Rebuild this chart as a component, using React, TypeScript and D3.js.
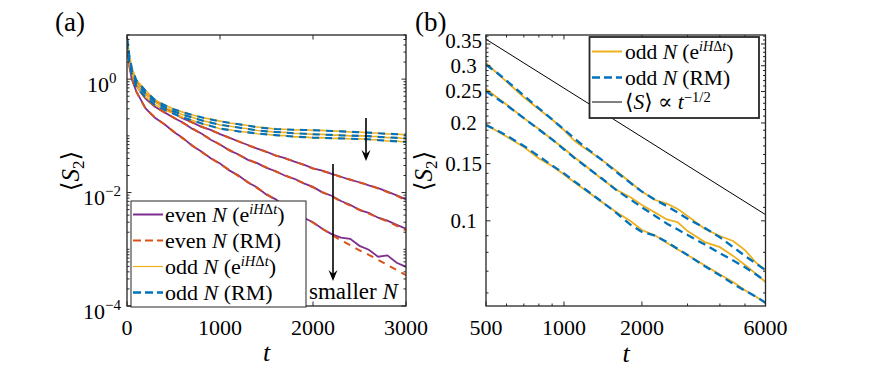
import React from 'react';
import * as d3 from 'd3';

const W = 891;
const H = 384;
const FONT = "'Liberation Serif', 'DejaVu Serif', 'Times New Roman', serif";
const AXIS = '#262626';
const PURPLE = '#7E2F8E';
const ORANGE = '#D95319';
const YELLOW = '#EDB120';
const BLUE = '#0072BD';

// ---------- panel (a): <S2> vs t, log y ----------
const tA = [0, 25, 50, 100, 200, 300, 400, 500, 600, 700, 800, 900, 1000, 1100, 1200, 1300, 1400, 1500,
  1600, 1700, 1800, 1900, 2000, 2100, 2200, 2300, 2400, 2500, 2600, 2700, 2800, 2900, 3000];

const evenExp1 = [4.1, 2.15, 1.42, 0.9, 0.555, 0.415, 0.318, 0.252, 0.203, 0.174, 0.144, 0.127, 0.107, 0.093, 0.0795,
  0.069, 0.0595, 0.0525, 0.0448, 0.0405, 0.0352, 0.031, 0.0268, 0.0243, 0.0214, 0.019, 0.0168, 0.0152, 0.0134,
  0.012, 0.0104, 0.0089, 0.0076];
const evenRM1 = [4.0, 2.1, 1.45, 0.88, 0.56, 0.41, 0.32, 0.25, 0.205, 0.172, 0.146, 0.126, 0.108, 0.092, 0.08,
  0.068, 0.06, 0.052, 0.045, 0.04, 0.0354, 0.0307, 0.0266, 0.024, 0.0217, 0.0188, 0.017, 0.015, 0.0136,
  0.0118, 0.0102, 0.0088, 0.0072];
const evenExp2 = [4.6, 1.95, 1.22, 0.76, 0.455, 0.325, 0.262, 0.208, 0.172, 0.134, 0.11, 0.0855, 0.0705, 0.0555,
  0.0468, 0.0378, 0.033, 0.0272, 0.0238, 0.0198, 0.0175, 0.0145, 0.0126, 0.0101, 0.0088, 0.0071, 0.0061,
  0.0049, 0.0044, 0.0036, 0.0032, 0.0027, 0.0023];
const evenRM2 = [4.5, 1.9, 1.25, 0.75, 0.45, 0.33, 0.26, 0.212, 0.17, 0.136, 0.108, 0.0867, 0.0699, 0.0563,
  0.0461, 0.0384, 0.0326, 0.0277, 0.0235, 0.0201, 0.0172, 0.0147, 0.0123, 0.0102, 0.0086, 0.007, 0.0059,
  0.005, 0.00425, 0.0036, 0.0031, 0.0026, 0.00215];
const evenExp3 = [5.1, 1.75, 1.02, 0.61, 0.305, 0.208, 0.162, 0.118, 0.092, 0.067, 0.053, 0.0402, 0.0325, 0.0246,
  0.0199, 0.015, 0.0123, 0.0092, 0.0076, 0.0057, 0.0048, 0.0036, 0.003, 0.0023, 0.00185, 0.0016, 0.00153,
  0.00115, 0.00098, 0.00074, 0.00078, 0.00058, 0.00049];
const evenRM3 = [5.0, 1.7, 1.05, 0.6, 0.3, 0.212, 0.16, 0.12, 0.0903, 0.068, 0.052, 0.0408, 0.0319, 0.025,
  0.0195, 0.0153, 0.012, 0.0094, 0.0074, 0.00586, 0.00469, 0.00373, 0.00294, 0.0023, 0.0018, 0.00144,
  0.00118, 0.00096, 0.0008, 0.00065, 0.00053, 0.00043, 0.00035];

const oddExp1 = [5.6, 2.65, 1.62, 0.97, 0.63, 0.435, 0.352, 0.298, 0.262, 0.235, 0.21, 0.197, 0.182, 0.168, 0.161,
  0.152, 0.143, 0.138, 0.131, 0.131, 0.127, 0.128, 0.125, 0.125, 0.121, 0.121, 0.117, 0.117, 0.113, 0.112,
  0.108, 0.108, 0.104];
const oddRM1 = [5.5, 2.6, 1.6, 0.96, 0.62, 0.43, 0.35, 0.295, 0.26, 0.233, 0.212, 0.195, 0.18, 0.17, 0.16,
  0.151, 0.142, 0.136, 0.132, 0.13, 0.128, 0.127, 0.126, 0.124, 0.122, 0.12, 0.118, 0.116, 0.114, 0.111,
  0.109, 0.107, 0.105];
const oddExp2 = [5.1, 2.35, 1.47, 0.85, 0.555, 0.395, 0.318, 0.275, 0.235, 0.212, 0.186, 0.173, 0.155, 0.149,
  0.139, 0.133, 0.124, 0.121, 0.116, 0.115, 0.11, 0.11, 0.106, 0.106, 0.103, 0.103, 0.1, 0.101, 0.098, 0.097,
  0.093, 0.093, 0.089];
const oddRM2 = [5.0, 2.3, 1.45, 0.84, 0.55, 0.39, 0.32, 0.272, 0.237, 0.21, 0.188, 0.171, 0.157, 0.148, 0.14,
  0.132, 0.125, 0.12, 0.117, 0.114, 0.111, 0.109, 0.107, 0.105, 0.104, 0.102, 0.101, 0.1, 0.099, 0.096,
  0.094, 0.092, 0.09];
const oddExp3 = [4.6, 2.05, 1.27, 0.74, 0.485, 0.355, 0.288, 0.248, 0.21, 0.189, 0.164, 0.151, 0.133, 0.128,
  0.119, 0.116, 0.109, 0.107, 0.102, 0.101, 0.096, 0.096, 0.092, 0.093, 0.09, 0.091, 0.088, 0.089, 0.086,
  0.085, 0.081, 0.081, 0.077];
const oddRM3 = [4.5, 2.0, 1.25, 0.73, 0.48, 0.35, 0.29, 0.245, 0.212, 0.187, 0.166, 0.149, 0.134, 0.127, 0.12,
  0.115, 0.11, 0.106, 0.103, 0.1, 0.097, 0.095, 0.093, 0.092, 0.091, 0.09, 0.089, 0.088, 0.087, 0.084,
  0.082, 0.08, 0.078];

const xTicksA = [0, 1000, 2000, 3000];
const yTicksA = [1e-4, 1e-2, 1e0];
const yTickExpA = ['−4', '−2', '0'];

// ---------- panel (b): log-log, odd N ----------
const tB = [500, 550, 600, 700, 800, 900, 1000, 1100, 1200, 1400, 1600, 1800, 2000, 2250, 2500, 2750, 3000,
  3500, 4000, 4500, 5000, 5500, 6000];
const bExp1 = [0.306, 0.285, 0.268, 0.24, 0.2205, 0.205, 0.19, 0.176, 0.1675, 0.154, 0.142, 0.1316, 0.123,
  0.1159, 0.113, 0.1087, 0.1035, 0.0944, 0.0898, 0.0867, 0.0813, 0.0745, 0.0706];
const bRM1 = [0.302, 0.286, 0.27, 0.243, 0.222, 0.205, 0.191, 0.179, 0.169, 0.154, 0.141, 0.131, 0.123,
  0.116, 0.111, 0.106, 0.1015, 0.095, 0.089, 0.083, 0.078, 0.074, 0.0705];
const bExp2 = [0.2544, 0.24, 0.228, 0.207, 0.1917, 0.178, 0.167, 0.1566, 0.1485, 0.1345, 0.1244, 0.1184,
  0.1118, 0.106, 0.101, 0.099, 0.093, 0.086, 0.083, 0.078, 0.0731, 0.0688, 0.0648];
const bRM2 = [0.25, 0.238, 0.227, 0.207, 0.191, 0.178, 0.166, 0.156, 0.148, 0.135, 0.124, 0.1165, 0.11,
  0.1035, 0.098, 0.094, 0.0905, 0.0845, 0.0795, 0.0755, 0.072, 0.0685, 0.0652];
const bExp3 = [0.1985, 0.189, 0.1817, 0.1687, 0.1555, 0.1474, 0.1388, 0.1312, 0.1248, 0.1142, 0.106, 0.1,
  0.0937, 0.0901, 0.0855, 0.0816, 0.0785, 0.0729, 0.0684, 0.0648, 0.0612, 0.0585, 0.0558];
const bRM3 = [0.197, 0.19, 0.183, 0.17, 0.158, 0.148, 0.14, 0.132, 0.1255, 0.1145, 0.1055, 0.0975, 0.0925,
  0.09, 0.086, 0.082, 0.0785, 0.0725, 0.068, 0.064, 0.061, 0.0585, 0.056];
const tRef = [500, 6000];
const sRef = [0.362, 0.1045];

const xTicksB = [500, 1000, 2000, 6000];
const xMinorB = [600, 700, 800, 900, 3000, 4000, 5000];
const yTicksB = [0.1, 0.15, 0.2, 0.25, 0.3, 0.35];

// ---------- layout ----------
const A = { x0: 127, x1: 406, y0: 35, y1: 306 };
const B = { x0: 486, x1: 765.5, y0: 35, y1: 306 };

const xA = d3.scaleLinear().domain([0, 3000]).range([A.x0, A.x1]);
const yA = d3.scaleLog().domain([1e-4, 6]).range([A.y1, A.y0]);
const xB = d3.scaleLog().domain([500, 6000]).range([B.x0, B.x1]);
const yB = d3.scaleLog().domain([0.0547, 0.373]).range([B.y1, B.y0]);

const lineA = d3.line<[number, number]>().x(d => xA(d[0])).y(d => yA(d[1]));
const lineB = d3.line<[number, number]>().x(d => xB(d[0])).y(d => yB(d[1]));
const pathA = (v: number[]) => lineA(tA.map((t, i) => [t, v[i]] as [number, number])) || '';
const pathB = (v: number[], ts = tB) => lineB(ts.map((t, i) => [t, v[i]] as [number, number])) || '';

const minorLogA: number[] = [];
for (let k = -4; k <= 0; k++) {
  for (let m = 1; m <= 9; m++) {
    const v = m * Math.pow(10, k);
    if (v <= 6 && !yTicksA.includes(v)) minorLogA.push(v);
  }
}
const minorLogB: number[] = [];
for (let i = 6; i <= 37; i++) {
  const v = i / 100;
  if (!yTicksB.some(t => Math.abs(t - v) < 1e-9)) minorLogB.push(v);
}

const MAJ = 4.5;
const MIN = 2.5;

const Sup = ({ children, dy = -9 }: { children: React.ReactNode; dy?: number }) => (
  <tspan dy={dy} fontSize="0.68em">{children}</tspan>
);

const ExpLabel = () => (
  <>
    (e<tspan dy={-8} fontSize="0.66em"><tspan fontStyle="italic">iH</tspan>Δ<tspan fontStyle="italic">t</tspan></tspan>
    <tspan dy={8}>)</tspan>
  </>
);

function Box({ r }: { r: { x0: number; x1: number; y0: number; y1: number } }) {
  return <rect x={r.x0} y={r.y0} width={r.x1 - r.x0} height={r.y1 - r.y0} fill="none" stroke={AXIS} strokeWidth={1.3} />;
}

function XTick({ x, r, len }: { x: number; r: typeof A; len: number }) {
  return (
    <g stroke={AXIS} strokeWidth={1}>
      <line x1={x} x2={x} y1={r.y1} y2={r.y1 - len} />
      <line x1={x} x2={x} y1={r.y0} y2={r.y0 + len} />
    </g>
  );
}
function YTick({ y, r, len }: { y: number; r: typeof A; len: number }) {
  return (
    <g stroke={AXIS} strokeWidth={1}>
      <line x1={r.x0} x2={r.x0 + len} y1={y} y2={y} />
      <line x1={r.x1} x2={r.x1 - len} y1={y} y2={y} />
    </g>
  );
}

function Arrow({ x, y1, y2 }: { x: number; y1: number; y2: number }) {
  return (
    <g>
      <line x1={x} x2={x} y1={y1} y2={y2 - 6} stroke="#000" strokeWidth={1.6} />
      <path d={`M${x},${y2} L${x - 4.5},${y2 - 11} L${x},${y2 - 7} L${x + 4.5},${y2 - 11} Z`} fill="#000" />
    </g>
  );
}

export default function App() {
  const evenExp = [evenExp1, evenExp2, evenExp3];
  const evenRM = [evenRM1, evenRM2, evenRM3];
  const oddExp = [oddExp1, oddExp2, oddExp3];
  const oddRM = [oddRM1, oddRM2, oddRM3];
  const bExp = [bExp1, bExp2, bExp3];
  const bRM = [bRM1, bRM2, bRM3];

  const legA = [
    { c: PURPLE, w: 2, dash: undefined, label: <>even <tspan fontStyle="italic">N</tspan> <ExpLabel /></> },
    { c: ORANGE, w: 2, dash: '8,4', label: <>even <tspan fontStyle="italic">N</tspan> (RM)</> },
    { c: YELLOW, w: 1.2, dash: undefined, label: <>odd <tspan fontStyle="italic">N</tspan> <ExpLabel /></> },
    { c: BLUE, w: 2.4, dash: '8,4', label: <>odd <tspan fontStyle="italic">N</tspan> (RM)</> },
  ];
  const legB = [
    { c: YELLOW, w: 2, dash: undefined, label: <>odd <tspan fontStyle="italic">N</tspan> <ExpLabel /></> },
    { c: BLUE, w: 2.4, dash: '8,4', label: <>odd <tspan fontStyle="italic">N</tspan> (RM)</> },
    {
      c: '#000', w: 1, dash: undefined,
      label: <>⟨<tspan fontStyle="italic">S</tspan>⟩ ∝ <tspan fontStyle="italic">t</tspan><Sup dy={-7}>−1/2</Sup></>,
    },
  ];

  return (
    <div style={{ position: 'absolute', left: 0, top: 0 }}>
      <svg width={W} height={H} style={{ display: 'block', background: '#fff', fontFamily: FONT }}>
        <defs>
          <clipPath id="clipA"><rect x={A.x0} y={A.y0} width={A.x1 - A.x0} height={A.y1 - A.y0} /></clipPath>
          <clipPath id="clipB"><rect x={B.x0} y={B.y0} width={B.x1 - B.x0} height={B.y1 - B.y0} /></clipPath>
        </defs>

        {/* ---- panel (a) ---- */}
        <g clipPath="url(#clipA)" fill="none">
          {evenExp.map((v, i) => <path key={'ee' + i} d={pathA(v)} stroke={PURPLE} strokeWidth={1.8} />)}
          {evenRM.map((v, i) => <path key={'er' + i} d={pathA(v)} stroke={ORANGE} strokeWidth={2} strokeDasharray="7,6" />)}
          {oddExp.map((v, i) => <path key={'oe' + i} d={pathA(v)} stroke={YELLOW} strokeWidth={1.6} />)}
          {oddRM.map((v, i) => <path key={'or' + i} d={pathA(v)} stroke={BLUE} strokeWidth={2.1} strokeDasharray="7,6" />)}
        </g>
        {xTicksA.map(t => <XTick key={t} x={xA(t)} r={A} len={MAJ} />)}
        {yTicksA.map(t => <YTick key={t} y={yA(t)} r={A} len={MAJ} />)}
        {minorLogA.map(t => <YTick key={t} y={yA(t)} r={A} len={MIN} />)}
        <Box r={A} />
        {xTicksA.map(t => (
          <text key={t} x={xA(t)} y={335} fontSize={22} textAnchor="middle">{t}</text>
        ))}
        {yTicksA.map((t, i) => (
          <text key={t} x={yTickExpA[i] === '0' ? 87 : 83} y={yA(t) + 12.5} fontSize={22}>
            10<Sup dy={-9}>{yTickExpA[i]}</Sup>
          </text>
        ))}
        <text x={266.5} y={361} fontSize={26} fontStyle="italic" textAnchor="middle">t</text>
        <text transform={`translate(79,171) rotate(-90)`} fontSize={25} textAnchor="middle">
          ⟨<tspan fontStyle="italic">S</tspan><tspan dy={5} fontSize={17}>2</tspan><tspan dy={-5}>⟩</tspan>
        </text>
        <text x={55} y={31} fontSize={27}>(a)</text>

        <Arrow x={366} y1={118} y2={161} />
        <Arrow x={333} y1={164} y2={281} />
        <text x={309} y={299} fontSize={23}>smaller <tspan fontStyle="italic">N</tspan></text>

        <rect x={131} y={201} width={175} height={106} fill="#fff" stroke={AXIS} strokeWidth={1} />
        {legA.map((e, i) => {
          const y = 214.5 + i * 26;
          return (
            <g key={i}>
              <line x1={133} x2={163} y1={y} y2={y} stroke={e.c} strokeWidth={e.w} strokeDasharray={e.dash} />
              <text x={165} y={y + 7} fontSize={22}>{e.label}</text>
            </g>
          );
        })}

        {/* ---- panel (b) ---- */}
        <g clipPath="url(#clipB)" fill="none">
          {bExp.map((v, i) => <path key={'be' + i} d={pathB(v)} stroke={YELLOW} strokeWidth={1.8} />)}
          {bRM.map((v, i) => <path key={'br' + i} d={pathB(v)} stroke={BLUE} strokeWidth={2.3} strokeDasharray="8,5" />)}
          <path d={pathB(sRef, tRef)} stroke="#000" strokeWidth={1} />
        </g>
        {xTicksB.map(t => <XTick key={t} x={xB(t)} r={B} len={MAJ} />)}
        {xMinorB.map(t => <XTick key={t} x={xB(t)} r={B} len={MIN} />)}
        {yTicksB.map(t => <YTick key={t} y={yB(t)} r={B} len={MAJ} />)}
        {minorLogB.map(t => <YTick key={t} y={yB(t)} r={B} len={MIN} />)}
        <Box r={B} />
        {xTicksB.map(t => (
          <text key={t} x={xB(t)} y={335} fontSize={22} textAnchor="middle">{t}</text>
        ))}
        {yTicksB.map(t => (
          <text key={t} x={463.5} y={yB(t) + (t === 0.35 ? 4 : 7)} fontSize={21} textAnchor="middle">{t}</text>
        ))}
        <text x={626} y={362} fontSize={26} fontStyle="italic" textAnchor="middle">t</text>
        <text transform={`translate(432,171) rotate(-90)`} fontSize={25} textAnchor="middle">
          ⟨<tspan fontStyle="italic">S</tspan><tspan dy={5} fontSize={17}>2</tspan><tspan dy={-5}>⟩</tspan>
        </text>
        <text x={415} y={31} fontSize={27}>(b)</text>

        <rect x={589.5} y={37} width={169.5} height={81} fill="#fff" stroke={AXIS} strokeWidth={1.8} />
        {legB.map((e, i) => {
          const y = [51.5, 77.5, 102][i];
          return (
            <g key={i}>
              <line x1={592} x2={622} y1={y} y2={y} stroke={e.c} strokeWidth={e.w} strokeDasharray={e.dash} />
              <text x={625} y={y + 7} fontSize={21.5}>{e.label}</text>
            </g>
          );
        })}
      </svg>
    </div>
  );
}
